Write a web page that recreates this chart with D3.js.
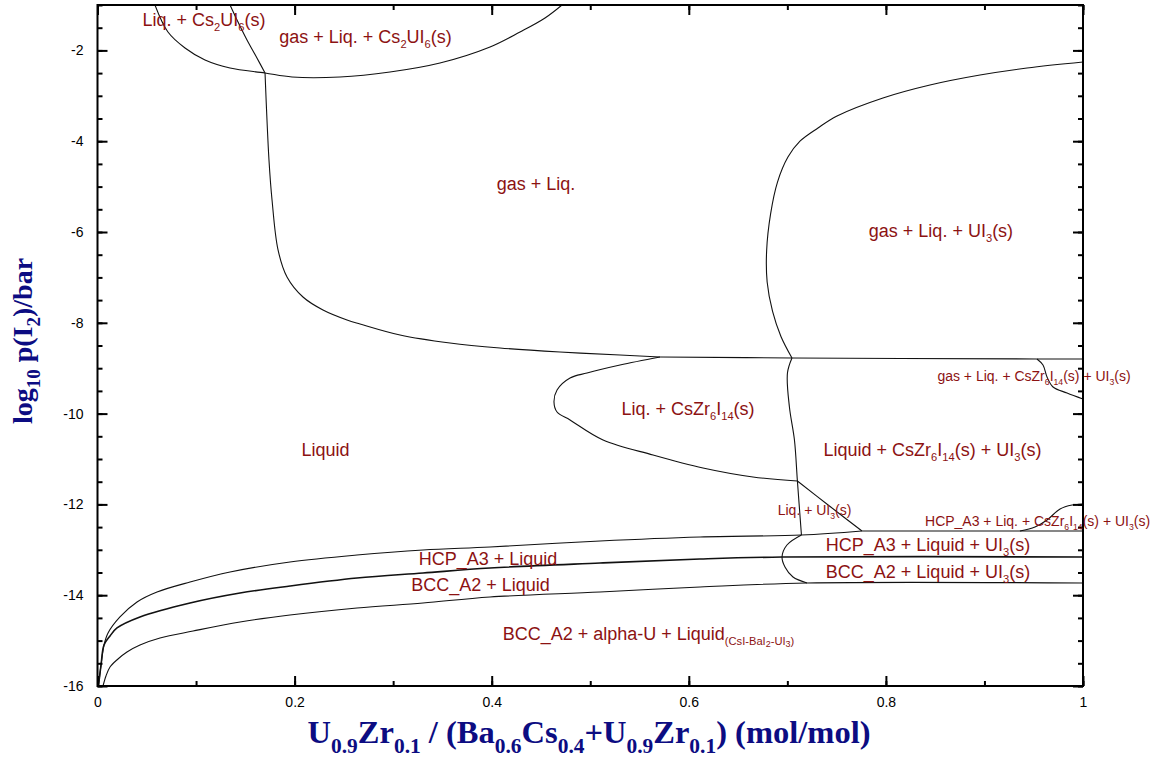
<!DOCTYPE html>
<html>
<head>
<meta charset="utf-8">
<script src="https://cdn.jsdelivr.net/npm/d3@7"></script>
<style>
  html, body { margin: 0; padding: 0; background: #fff; }
  svg { display: block; }
</style>
</head>
<body>
<svg id="chart" width="1159" height="761"></svg>
<script>
// Phase diagram: log10 p(I2) vs U0.9Zr0.1/(Ba0.6Cs0.4+U0.9Zr0.1)

const xMajorTicks = [0, 0.2, 0.4, 0.6, 0.8, 1];
const xTickLabels = ["0", "0.2", "0.4", "0.6", "0.8", "1"];
const yMajorTicks = [-16, -14, -12, -10, -8, -6, -4, -2];
const yTickLabels = ["-16", "-14", "-12", "-10", "-8", "-6", "-4", "-2"];

// phase boundaries, [x, log10 p(I2)]
const cs2ui6Arc = [
  [0.0583, -1.0], [0.0715, -1.595], [0.0888, -1.947], [0.1091, -2.211], [0.1345, -2.388],
  [0.170, -2.498], [0.1974, -2.586], [0.246, -2.586], [0.2968, -2.476], [0.3475, -2.278],
  [0.3983, -1.925], [0.4287, -1.595], [0.4541, -1.286], [0.4713, -1.0]
];
const cs2ui6Liquidus = [
  [0.1345, -1.0], [0.1416, -1.330], [0.1517, -1.771], [0.1618, -2.167], [0.170, -2.498]
];
const gasLiquidBoundary = [
  [0.170, -2.498], [0.174, -4.414], [0.1771, -5.295], [0.1832, -6.396], [0.1923, -6.991],
  [0.2085, -7.432], [0.2288, -7.718], [0.2532, -7.938], [0.2664, -8.026], [0.307, -8.269],
  [0.3577, -8.445], [0.4084, -8.555], [0.4693, -8.643], [0.5302, -8.709], [0.5708, -8.753]
];
const gasThreePhase = [[0.5708, -8.753], [0.7047, -8.775], [0.9533, -8.797], [1.0, -8.797]];
const csZrGasBranch = [
  [0.9533, -8.797], [0.9594, -8.93], [0.9635, -9.194], [0.9696, -9.414], [0.9838, -9.546], [1.0, -9.678]
];
const ui3GasBoundary = [
  [1.0, -2.256], [0.9432, -2.388], [0.8955, -2.542], [0.8447, -2.762], [0.797, -3.048],
  [0.7504, -3.445], [0.7311, -3.709], [0.7128, -4.0], [0.7006, -4.35], [0.6900, -4.90],
  [0.6830, -5.60], [0.6790, -6.40], [0.6795, -7.10], [0.6850, -7.75], [0.6935, -8.30], [0.7047, -8.775]
];
const ui3Liquidus = [
  [0.7047, -8.775], [0.7001, -9.106], [0.7021, -9.855], [0.7072, -10.581], [0.7102, -11.485], [0.7143, -12.674]
];
const csZrLens = [
  [0.5708, -8.753], [0.5302, -8.930], [0.4967, -9.106], [0.4795, -9.216], [0.4663, -9.480],
  [0.4632, -9.744], [0.4663, -9.965], [0.4795, -10.141], [0.513, -10.581], [0.5637, -10.912],
  [0.6144, -11.198], [0.6651, -11.396], [0.7102, -11.485]
];
const ui3Diagonal = [[0.7102, -11.485], [0.7427, -12.035], [0.7757, -12.586]];
const hcpLiquidus = [
  [0.001, -16.0], [0.0036, -15.537], [0.0066, -15.097], [0.0107, -14.833], [0.0228, -14.48],
  [0.0401, -14.150], [0.0604, -13.93], [0.0939, -13.71], [0.1345, -13.489], [0.1953, -13.269],
  [0.2633, -13.115], [0.3303, -13.004], [0.3983, -12.938], [0.5099, -12.806], [0.6114, -12.718],
  [0.7143, -12.674], [0.7757, -12.586]
];
const hcpUi3Line = [[0.7757, -12.586], [1.0, -12.586]];
const hcpCsZrBump = [
  [0.936, -12.586], [0.9513, -12.498], [0.9635, -12.344], [0.9767, -12.101], [0.9889, -12.013], [1.0, -11.991]
];
const hcpBccBoundary = [
  [0.001, -16.0], [0.0036, -15.537], [0.0066, -15.097], [0.0127, -14.899], [0.0198, -14.722],
  [0.0431, -14.48], [0.0939, -14.172], [0.1446, -13.952], [0.1953, -13.797], [0.2633, -13.621],
  [0.3303, -13.511], [0.3983, -13.401], [0.5099, -13.291], [0.6114, -13.203], [0.6946, -13.159],
  [1.0, -13.159]
];
const bccSolidus = [
  [0.0056, -16.0], [0.0086, -15.78], [0.0127, -15.581], [0.0208, -15.405], [0.0299, -15.251],
  [0.0431, -15.097], [0.0634, -14.943], [0.097, -14.789], [0.1446, -14.590], [0.1953, -14.436],
  [0.2633, -14.282], [0.3303, -14.172], [0.3983, -14.040], [0.5099, -13.93], [0.6114, -13.819],
  [0.72, -13.731], [1.0, -13.731]
];
const ui3MetalBoundary = [
  [0.7143, -12.674], [0.6996, -12.894], [0.6946, -13.159], [0.6976, -13.379], [0.7057, -13.599], [0.72, -13.731]
];

const boundaries = [
  cs2ui6Arc, cs2ui6Liquidus, gasLiquidBoundary, gasThreePhase, csZrGasBranch, ui3GasBoundary,
  ui3Liquidus, csZrLens, ui3Diagonal, hcpLiquidus, hcpUi3Line, hcpCsZrBump, bccSolidus, ui3MetalBoundary
];

// phase-field labels: text ("_{..}" marks a subscript), x, y, font size, anchor
const labelTexts = [
  "Liq. + Cs_{2}UI_{6}(s)",
  "gas + Liq. + Cs_{2}UI_{6}(s)",
  "gas + Liq.",
  "gas + Liq. + UI_{3}(s)",
  "gas + Liq. + CsZr_{6}I_{14}(s) + UI_{3}(s)",
  "Liq. + CsZr_{6}I_{14}(s)",
  "Liquid",
  "Liquid + CsZr_{6}I_{14}(s) + UI_{3}(s)",
  "Liq. + UI_{3}(s)",
  "HCP_A3 + Liq. + CsZr_{6}I_{14}(s) + UI_{3}(s)",
  "HCP_A3 + Liquid + UI_{3}(s)",
  "HCP_A3 + Liquid",
  "BCC_A2 + Liquid + UI_{3}(s)",
  "BCC_A2 + Liquid",
  "BCC_A2 + alpha-U + Liquid_{(CsI-BaI_{2}-UI_{3})}"
];
const labelX = [0.1081, 0.2720, 0.4450, 0.8559, 0.9503, 0.5992, 0.2314, 0.8473, 0.7276, 0.8397, 0.8427, 0.3962, 0.8427, 0.3886, 0.5591];
const labelY = [-1.463, -1.837, -5.075, -6.110, -9.282, -10.031, -10.934, -10.934, -12.233, -12.476, -13.026, -13.335, -13.621, -13.907, -14.987];
const labelSize = [18, 18, 18, 18, 14, 18, 18, 18, 14, 14, 18, 18, 18, 18, 18];
const labelAnchor = ["middle", "middle", "middle", "middle", "middle", "middle", "middle", "middle", "middle", "start", "middle", "middle", "middle", "middle", "middle"];

const W = 1159, H = 761;
const plot = { left: 97.5, right: 1083, top: 5, bottom: 686 };
const labelColor = "#8c1212";
const titleColor = "#0c0c82";
const sansFont = "'Liberation Sans', Arial, Helvetica, sans-serif";
const serifFont = "'Liberation Serif', 'Times New Roman', Times, serif";

const svg = d3.select("#chart");
const x = d3.scaleLinear().domain([0, 1]).range([plot.left, plot.right]);
const y = d3.scaleLinear().domain([-16, -1]).range([plot.bottom, plot.top]);

svg.append("defs").append("clipPath").attr("id", "plotClip")
  .append("rect")
  .attr("x", plot.left).attr("y", plot.top)
  .attr("width", plot.right - plot.left).attr("height", plot.bottom - plot.top);

// phase boundaries
const line = d3.line().x(d => x(d[0])).y(d => y(d[1])).curve(d3.curveCatmullRom.alpha(0.5));
svg.append("g").attr("clip-path", "url(#plotClip)")
  .selectAll("path").data(boundaries).join("path")
  .attr("d", line)
  .attr("fill", "none")
  .attr("stroke", "#111")
  .attr("stroke-width", 1.1);
svg.append("path").attr("clip-path", "url(#plotClip)")
  .attr("d", line(hcpBccBoundary))
  .attr("fill", "none").attr("stroke", "#111").attr("stroke-width", 1.6);

// rich text: "_{...}" lowers and shrinks the enclosed run (nestable)
function parseRich(str) {
  const out = [];
  let lvl = 0, buf = "";
  for (let i = 0; i < str.length; i++) {
    if (str[i] === "_" && str[i + 1] === "{") {
      if (buf) out.push({ t: buf, l: lvl });
      buf = ""; lvl++; i++;
    } else if (str[i] === "}" && lvl > 0) {
      if (buf) out.push({ t: buf, l: lvl });
      buf = ""; lvl--;
    } else buf += str[i];
  }
  if (buf) out.push({ t: buf, l: lvl });
  return out;
}
function writeRich(textSel, str, size, scales, shifts) {
  let cur = 0;
  parseRich(str).forEach(seg => {
    const shift = shifts[seg.l] * size;
    textSel.append("tspan")
      .attr("dy", shift - cur)
      .attr("font-size", size * scales[seg.l])
      .text(seg.t);
    cur = shift;
  });
}

// axes: ticks on all four sides pointing inward
const minorX = d3.range(0, 1.0001, 0.1);
const minorY = d3.range(-16, -0.999, 0.5);
const axes = svg.append("g");

const styleAxis = g => {
  g.select(".domain").remove();
  g.selectAll(".tick line").attr("stroke", "#000").attr("stroke-width", 2);
  g.selectAll(".tick text").attr("fill", "#000").attr("font-family", sansFont).attr("font-size", 14);
};

axes.append("g").attr("transform", `translate(0,${plot.bottom})`)
  .call(d3.axisBottom(x).tickValues(minorX).tickSize(-5).tickFormat(""))
  .call(styleAxis);
axes.append("g").attr("transform", `translate(0,${plot.bottom})`)
  .call(d3.axisBottom(x).tickValues(xMajorTicks).tickSize(-10).tickPadding(11)
    .tickFormat((d, i) => xTickLabels[i]))
  .call(styleAxis);
axes.append("g").attr("transform", `translate(0,${plot.top})`)
  .call(d3.axisTop(x).tickValues(minorX).tickSize(-5).tickFormat(""))
  .call(styleAxis);
axes.append("g").attr("transform", `translate(0,${plot.top})`)
  .call(d3.axisTop(x).tickValues(xMajorTicks).tickSize(-10).tickFormat(""))
  .call(styleAxis);

axes.append("g").attr("transform", `translate(${plot.left},0)`)
  .call(d3.axisLeft(y).tickValues(minorY).tickSize(-5).tickFormat(""))
  .call(styleAxis);
axes.append("g").attr("transform", `translate(${plot.left},0)`)
  .call(d3.axisLeft(y).tickValues(yMajorTicks).tickSize(-10).tickPadding(14)
    .tickFormat((d, i) => yTickLabels[i]))
  .call(styleAxis);
axes.append("g").attr("transform", `translate(${plot.right},0)`)
  .call(d3.axisRight(y).tickValues(minorY).tickSize(-5).tickFormat(""))
  .call(styleAxis);
axes.append("g").attr("transform", `translate(${plot.right},0)`)
  .call(d3.axisRight(y).tickValues(yMajorTicks).tickSize(-10).tickFormat(""))
  .call(styleAxis);

// frame
svg.append("rect")
  .attr("x", plot.left).attr("y", plot.top)
  .attr("width", plot.right - plot.left).attr("height", plot.bottom - plot.top)
  .attr("fill", "none").attr("stroke", "#000").attr("stroke-width", 2);

// phase-field labels
const labels = svg.append("g").attr("font-family", sansFont).attr("fill", labelColor);
labelTexts.forEach((txt, i) => {
  const t = labels.append("text")
    .attr("x", x(labelX[i])).attr("y", y(labelY[i]))
    .attr("text-anchor", labelAnchor[i]);
  writeRich(t, txt, labelSize[i], [1, 0.62, 0.5], [0, 0.28, 0.38]);
});

// axis titles
const xTitle = svg.append("text")
  .attr("x", 589).attr("y", 743)
  .attr("text-anchor", "middle")
  .attr("font-family", serifFont).attr("font-weight", "bold")
  .attr("fill", titleColor);
writeRich(xTitle, "U_{0.9}Zr_{0.1} / (Ba_{0.6}Cs_{0.4}+U_{0.9}Zr_{0.1}) (mol/mol)", 32.5, [1, 0.66], [0, 0.3]);

const yTitle = svg.append("text")
  .attr("transform", "translate(32,341) rotate(-90)")
  .attr("text-anchor", "middle")
  .attr("font-family", serifFont).attr("font-weight", "bold")
  .attr("fill", titleColor);
writeRich(yTitle, "log_{10} p(I_{2})/bar", 28, [1, 0.68], [0, 0.3]);
</script>
</body>
</html>
